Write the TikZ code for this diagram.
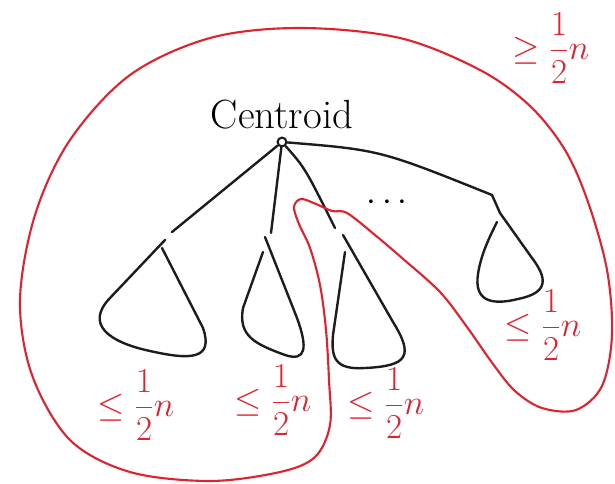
\documentclass[tikz,border=0pt]{standalone}
\usepackage{amsmath,amssymb}
\usetikzlibrary{positioning}
\definecolor{Ink}{HTML}{1C1C1C}
\definecolor{Pen}{HTML}{E0222E}

\begin{document}
\begin{tikzpicture}[x=0.025cm,y=-0.025cm,
    dot/.style={circle,draw=Ink,line width=1.5pt,inner sep=0pt,minimum size=2.2mm},
    edge/.style={draw=Ink,line width=1.7pt,line cap=round},
    subtree/.style={draw=Ink,line width=1.7pt,line cap=round,line join=round},
    hull/.style={draw=Pen,line width=1.5pt,smooth cycle,tension=0.55},
    bound/.style={text=Pen,font=\fontsize{26}{30}\selectfont}
  ]
    \useasboundingbox (0,0) rectangle (615,484);
    % centroid and its children
    \node[dot] (cen) at (282,142) {};
    \node[font=\fontsize{29}{34}\selectfont,above=0.6mm of cen] (name) {Centroid};
    \coordinate (tL) at (172,232);
    \coordinate (tA) at (271,233);
    \coordinate (tB) at (335,228);
    \coordinate (tR) at (492,195);
    \draw[edge] (cen) -- (tL);
    \draw[edge] (cen) -- (tA);
    \draw[edge] (cen) .. controls (305,168) .. (tB);
    \draw[edge] (cen) .. controls (380,150) .. (tR);
    % subtrees
    \draw[subtree] (165,240) -- (110,298) .. controls (85,324) and (108,342) .. (150,351)
      .. controls (190,360) and (214,360) .. (203,328) -- (162,248);
    \draw[subtree] (265,237) -- (297,318) .. controls (308,348) and (306,362) .. (285,355)
      .. controls (255,344) and (238,336) .. (243,308) -- (263,252);
    \draw[subtree] (343,235) -- (393,322) .. controls (414,356) and (408,366) .. (365,368)
      .. controls (335,370) and (331,358) .. (333,335) -- (345,252);
    \draw[subtree] (tR) -- (500,213) -- (532,258) .. controls (552,284) and (542,294) .. (518,299)
      .. controls (490,306) and (474,300) .. (478,274) .. controls (481,254) and (490,236) .. (497,222);
    \node[font=\fontsize{24}{28}\selectfont] (more) at (390,203) {$\cdots$};
    % red boundary
    \draw[hull] plot coordinates {(347,213) (375,235) (402,258) (440,292) (467,327) (493,364) (515,391) (542,408) (576,410) (602,386) (612,335) (607,270) (588,202) (565,150) (530,106) (480,70) (400,38) (300,28) (210,38) (130,75) (70,140) (35,215) (20,300) (32,375) (70,440) (130,472) (210,481) (280,472) (315,457) (330,425) (329,380) (326,330) (320,285) (310,248) (299,224) (294,207) (301,199) (316,204) (332,211)};
    % sizes
    \node[bound] (bL) at (136,405) {$\leq\dfrac{1}{2}n$};
    \node[bound] (bA) at (273,400) {$\leq\dfrac{1}{2}n$};
    \node[bound] (bB) at (386,403) {$\leq\dfrac{1}{2}n$};
    \node[bound] (bR) at (543,325) {$\leq\dfrac{1}{2}n$};
    \node[bound] (rest) at (551,48) {$\geq\dfrac{1}{2}n$};
  \end{tikzpicture}
\end{document}
